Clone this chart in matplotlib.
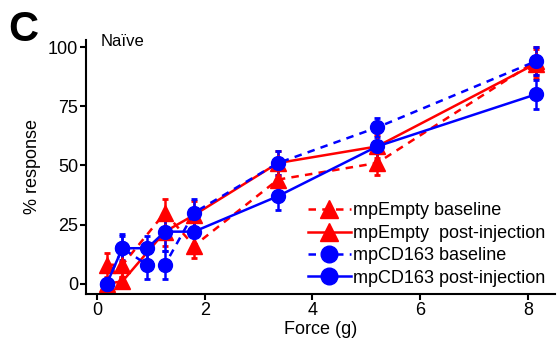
import matplotlib
matplotlib.use("Agg")
import matplotlib.pyplot as plt
from matplotlib.lines import Line2D

# data
force = [0.18, 0.47, 0.93, 1.26, 1.80, 3.36, 5.20, 8.15]

empty_base = [8, 8, None, 30, 16, 44, 51, 94]
empty_base_err = [5, 5, None, 6, 5, 5, 5, 6]
empty_post = [0, 1, None, 22, 29, 51, 58, 93]
empty_post_err = [0, 2, None, 6, 6, 5, 5, 6]
cd_base = [0, 15, 8, 8, 30, 51, 66, 94]
cd_base_err = [0, 6, 6, 6, 6, 5, 4, 6]
cd_post = [0, 15, 15, 22, 22, 37, 58, 80]
cd_post_err = [0, 5, 5, 8, 6, 6, 6, 6]

labels = ["mpEmpty baseline", "mpEmpty  post-injection",
          "mpCD163 baseline", "mpCD163 post-injection"]

plt.rcParams['font.family'] = ['Liberation Sans', 'DejaVu Sans']

fig = plt.figure(figsize=(5.57, 3.47), dpi=100)
ax = fig.add_axes([0.155, 0.153, 0.841, 0.732])


def pick(xs, ys, es):
    keep = [i for i, v in enumerate(ys) if v is not None]
    return [xs[i] for i in keep], [ys[i] for i in keep], [es[i] for i in keep]


series = [
    (empty_base, empty_base_err, "red", "--", "^", 11),
    (empty_post, empty_post_err, "red", "-", "^", 11),
    (cd_base, cd_base_err, "blue", "--", "o", 10),
    (cd_post, cd_post_err, "blue", "-", "o", 10),
]
handles = []
for (ys, es, col, ls, mk, ms), lab in zip(series, labels):
    x, y, e = pick(force, ys, es)
    dash = (3, 2.5) if ls == "--" else (None, None)
    ax.errorbar(x, y, yerr=e, color=col, ls=ls, lw=1.8, marker=mk, ms=ms,
                elinewidth=1.8, capsize=2.5, capthick=2, dashes=dash)
    handles.append(Line2D([], [], color=col, ls=ls, lw=1.8, marker=mk,
                          ms=ms + 2, dashes=dash))

ax.set_xlim(-0.2, 8.5)
ax.set_ylim(-4.3, 103)
ax.set_xticks([0, 2, 4, 6, 8])
ax.set_yticks([0, 25, 50, 75, 100])
for s in ["top", "right"]:
    ax.spines[s].set_visible(False)
for s in ["left", "bottom"]:
    ax.spines[s].set_linewidth(1.5)
ax.tick_params(width=1.5, length=4, labelsize=13, colors="black", pad=2)
ax.set_xlabel("Force (g)", fontsize=13, labelpad=1)
ax.set_ylabel("% response", fontsize=13, labelpad=5)

ax.legend(handles, labels, loc="lower right", frameon=False, fontsize=13,
          handlelength=2.4, handletextpad=0.1, labelspacing=0.3,
          borderaxespad=0.0, bbox_to_anchor=(0.995, 0.0))

ax.text(0.03, 1.025, "Naïve", transform=ax.transAxes, fontsize=12, va="top")
fig.text(0.015, 0.97, "C", fontsize=30, fontweight="bold", va="top")

fig.savefig("out.png", dpi=100)
